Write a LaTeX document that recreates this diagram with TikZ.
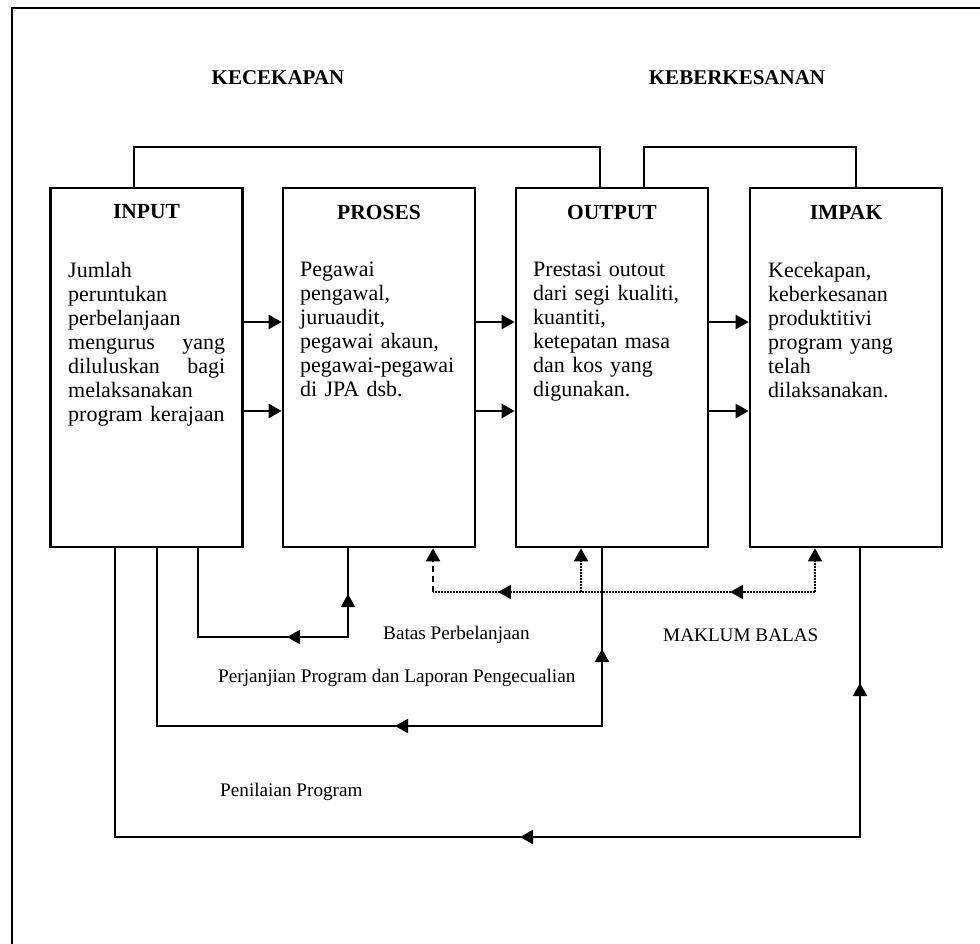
\documentclass[tikz,border=0pt]{standalone}
\usepackage{fontspec}
\setmainfont{Liberation Serif}
\usetikzlibrary{arrows.meta,calc}
\begin{document}
\begin{tikzpicture}[x=1pt,y=-1pt,
  box/.style={draw,line width=2.6pt,minimum width=192pt,minimum height=359pt,inner sep=0pt},
  ttl/.style={font=\fontsize{21.5}{24}\selectfont\bfseries,inner sep=0pt,anchor=center},
  body/.style={font=\fontsize{22}{24}\selectfont,inner sep=0pt,anchor=north west,text width=175pt,align=left},
  lbl/.style={font=\fontsize{19.2}{21}\selectfont,inner sep=0pt,anchor=west},
  hdr/.style={font=\fontsize{21}{23}\selectfont\bfseries,inner sep=0pt},
  ln/.style={line width=2.3pt},
  dln/.style={line width=1.7pt,dash pattern=on 1.6pt off 1.4pt},
  dsh/.style={line width=2pt,dash pattern=on 6pt off 4pt},
  tip/.style={-{Triangle[length=13pt,width=14pt]}},
]
\useasboundingbox (0,0) rectangle (980,944);
\draw[line width=2.3pt] (980,8) -- (12,8) -- (12,944);

% boxes
\node[box] (inp) at (146.5,367.5) {};
\node[box] (pro) at (379,367.5) {};
\node[box] (out) at (612,367.5) {};
\node[box] (imp) at (846,367.5) {};

% titles
\node[ttl] (inpT) at (146.5,212) {INPUT};
\node[ttl] (proT) at (379,212) {PROSES};
\node[ttl] (outT) at (612,212) {OUTPUT};
\node[ttl] (impT) at (846,212) {IMPAK};

% bodies
\node[body] (inpB) at (68,262) {Jumlah\\ peruntukan\\ perbelanjaan\\ \makebox[157pt][l]{mengurus\hfill yang}\\ \makebox[157pt][l]{diluluskan\hfill bagi}\\ melaksanakan\\ program kerajaan};
\node[body] (proB) at (300,262) {Pegawai\\ pengawal,\\ juruaudit,\\ pegawai akaun,\\ pegawai-pegawai\\ di JPA dsb.};
\node[body] (outB) at (533,262) {Prestasi outout\\ dari segi kualiti,\\ kuantiti,\\ ketepatan masa\\ dan kos yang\\ digunakan.};
\node[body] (impB) at (768,262) {Kecekapan,\\ keberkesanan\\ produktitivi\\ program yang\\ telah\\ dilaksanakan.};

% headers
\node[hdr] (kec) at (278,78) {KECEKAPAN};
\node[hdr] (keb) at (737,78) {KEBERKESANAN};

% top connectors
\draw[ln] (134,0 |- inp.north) -- (134,147) -- (600,147) -- (600,0 |- out.north);
\draw[ln] (644,0 |- out.north) -- (644,147) -- (856,147) -- (856,0 |- imp.north);

% horizontal arrows
\foreach \a/\b in {inp/pro,pro/out,out/imp}{
  \draw[ln,tip] (\a.east |- 0,322) -- (\b.west |- 0,322);
  \draw[ln,tip] (\a.east |- 0,411) -- (\b.west |- 0,411);
}

% bottom connectors
\draw[ln] (198,0 |- inp.south) |- (348,637) -- (348,0 |- pro.south);
\draw[ln,tip] (348,637) -- (287,637);
\draw[ln,tip] (348,637) -- (348,594);

\draw[ln] (157,0 |- inp.south) |- (602,726) -- (602,0 |- out.south);
\draw[ln,tip] (602,726) -- (395,726);
\draw[ln,tip] (602,726) -- (602,649);

\draw[ln] (115,0 |- inp.south) |- (860,837) -- (860,0 |- imp.south);
\draw[ln,tip] (860,837) -- (520,837);
\draw[ln,tip] (860,837) -- (860,683);

% feedback
\coordinate (fbR) at (815,592);
\coordinate (fbM) at (581,592);
\coordinate (fbL) at (433,592);
\draw[dln] (fbR) -- (fbL);
\draw[dln,tip] (fbR) -- (fbR |- imp.south);
\draw[dln,tip] (fbM) -- (fbM |- out.south);
\draw[dsh,tip] (fbL) -- (fbL |- pro.south);
\draw[dln,tip] (fbR) -- (730,592);
\draw[dln,tip] (fbM) -- (498,592);

% labels
\node[lbl] (bat) at (383,635) {Batas Perbelanjaan};
\node[lbl] (mak) at (663,635) {MAKLUM BALAS};
\node[lbl] (per) at (218,678) {Perjanjian Program dan Laporan Pengecualian};
\node[lbl] (pen) at (220,792) {Penilaian Program};
\end{tikzpicture}
\end{document}
